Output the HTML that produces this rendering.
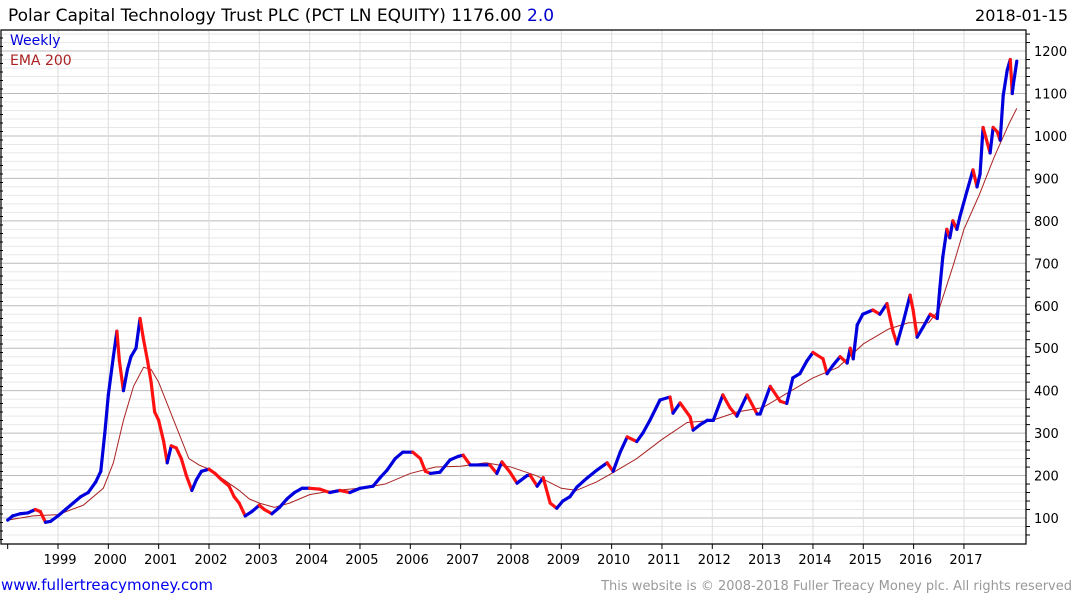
<!DOCTYPE html>
<html><head><meta charset="utf-8">
<style>
body{margin:0;background:#fff;}
svg{display:block;font-family:"DejaVu Sans","Liberation Sans",sans-serif;}
</style></head>
<body>
<svg id="chart" width="1075" height="600" viewBox="0 0 1075 600" xmlns="http://www.w3.org/2000/svg">
<text x="8" y="21" font-size="17" fill="#000">Polar Capital Technology Trust PLC (PCT LN EQUITY) 1176.00 <tspan fill="#0000cc">2.0</tspan></text>
<text x="1068" y="21" font-size="16" text-anchor="end" fill="#000">2018-01-15</text>
<g id="grid"></g>
<g id="axes"></g>
<g id="series"></g>
<text x="10" y="45" font-size="14" fill="#0000dd">Weekly</text>
<text x="10" y="65" font-size="14" fill="#aa2222">EMA 200</text>
<text x="1" y="590" font-size="15" fill="#0000ee">www.fullertreacymoney.com</text>
<text x="1072" y="590" font-size="13" text-anchor="end" fill="#999">This website is © 2008-2018 Fuller Treacy Money plc. All rights reserved</text>
</svg>
<script>
const priceDates=[1998.0,1998.1,1998.25,1998.4,1998.55,1998.65,1998.75,1998.85,1999.0,1999.15,1999.3,1999.45,1999.6,1999.75,1999.85,1999.93,2000.0,2000.1,2000.17,2000.22,2000.3,2000.38,2000.45,2000.55,2000.63,2000.7,2000.78,2000.85,2000.92,2001.0,2001.1,2001.17,2001.25,2001.35,2001.45,2001.55,2001.66,2001.75,2001.85,2002.0,2002.12,2002.25,2002.4,2002.5,2002.6,2002.72,2002.85,2003.0,2003.1,2003.25,2003.4,2003.55,2003.7,2003.85,2004.0,2004.2,2004.4,2004.6,2004.8,2005.0,2005.26,2005.4,2005.54,2005.7,2005.85,2006.05,2006.2,2006.3,2006.4,2006.59,2006.79,2006.95,2007.05,2007.19,2007.4,2007.58,2007.72,2007.82,2007.98,2008.12,2008.32,2008.38,2008.52,2008.64,2008.78,2008.91,2009.03,2009.17,2009.31,2009.51,2009.71,2009.91,2010.03,2010.17,2010.31,2010.5,2010.62,2010.76,2010.96,2011.16,2011.22,2011.36,2011.56,2011.62,2011.76,2011.9,2012.02,2012.21,2012.35,2012.49,2012.69,2012.89,2012.95,2013.15,2013.35,2013.48,2013.6,2013.74,2013.88,2014.0,2014.2,2014.28,2014.4,2014.54,2014.68,2014.74,2014.8,2014.88,2014.99,2015.19,2015.33,2015.47,2015.59,2015.67,2015.79,2015.93,2015.99,2016.07,2016.19,2016.33,2016.47,2016.52,2016.58,2016.66,2016.72,2016.78,2016.86,2016.92,2017.06,2017.18,2017.26,2017.32,2017.38,2017.52,2017.58,2017.66,2017.72,2017.78,2017.86,2017.92,2017.96,2017.98,2018.05];
const priceValues=[95,105,110,112,120,115,90,92,105,120,135,150,160,185,210,300,390,480,540,470,400,450,480,500,570,520,470,420,350,330,280,230,270,265,240,200,165,190,210,215,205,190,175,150,135,105,115,130,120,110,125,145,160,170,170,168,160,165,160,170,175,195,213,240,255,255,240,210,205,208,237,245,248,225,225,225,205,232,208,182,200,201,175,195,135,123,140,150,173,194,213,230,210,255,291,280,300,330,378,385,347,371,338,307,320,330,330,390,360,340,390,345,345,410,375,370,430,440,470,490,475,440,460,480,465,500,475,555,580,590,580,605,540,510,560,625,590,526,550,580,570,640,715,780,760,800,780,810,870,920,880,910,1020,960,1020,1010,990,1095,1155,1180,1100,1120,1176];
const emaDates=[1998.0,1998.5,1999.0,1999.5,1999.9,2000.1,2000.3,2000.5,2000.7,2000.85,2001.0,2001.2,2001.4,2001.6,2001.8,2002.0,2002.3,2002.6,2002.8,2003.0,2003.3,2003.6,2004.0,2004.5,2005.0,2005.5,2006.0,2006.5,2007.0,2007.5,2008.0,2008.5,2009.0,2009.3,2009.7,2010.0,2010.5,2011.0,2011.5,2012.0,2012.5,2013.0,2013.5,2014.0,2014.5,2015.0,2015.5,2015.9,2016.3,2016.5,2016.8,2017.0,2017.3,2017.6,2017.9,2018.05];
const emaValues=[95,105,108,130,170,230,330,410,455,450,420,360,300,240,225,215,190,165,145,135,125,135,155,165,170,180,205,220,222,230,220,200,170,165,185,205,240,285,325,330,350,360,395,430,455,510,545,560,560,590,700,780,860,950,1030,1065];
const yearTicks=[1999,2000,2001,2002,2003,2004,2005,2006,2007,2008,2009,2010,2011,2012,2013,2014,2015,2016,2017];
const priceTicks=[100,200,300,400,500,600,700,800,900,1000,1100,1200];

const NS="http://www.w3.org/2000/svg";
const X=t=>58+(t-1999)*50.33;
const Y=p=>518-(p-100)*0.4245;
const L=0,R=1026,T=30,B=544;
function mk(tag,attrs,parent){const e=document.createElementNS(NS,tag);for(const k in attrs)e.setAttribute(k,attrs[k]);parent.appendChild(e);return e;}
const grid=document.getElementById('grid'),axes=document.getElementById('axes'),series=document.getElementById('series');
// minor grid
for(let p=60;p<=1260;p+=20){const y=Y(p);if(y<T||y>B)continue;
 const major=p%100===0;
 const g=mk('line',{x1:L,x2:R,y1:y,y2:y,stroke:major?'#bbbbbb':'#e8e8e8','stroke-width':1},grid);
 
 
 const tk=mk('line',{x1:R,x2:R+(major?0:4),y1:y,y2:y,stroke:'#000'},axes);
 
 
}
for(const yr of yearTicks){const x=X(yr);
 const g=mk('line',{x1:x,x2:x,y1:T,y2:B,stroke:'#dddddd'},grid);
 
 
 const tk=mk('line',{x1:x,x2:x,y1:B,y2:B+5,stroke:'#000'},axes);
 
 
 const tx=mk('text',{x:x+2,y:564,'font-size':13,'text-anchor':'middle',fill:'#000'},axes);
 tx.textContent=yr;
 
 
}
{const tk=mk('line',{x1:X(1998),x2:X(1998),y1:B,y2:B+5,stroke:'#000'},axes);
 
 }
for(const p of priceTicks){const tx=mk('text',{x:1034,y:Y(p)+5,'font-size':13,fill:'#000'},axes);
 tx.textContent=p;
 
 }
for(let y=T+8;y<B;y+=8.5){const tk=mk('line',{x1:0,x2:3,y1:y,y2:y,stroke:'#000'},axes);
 
 }
const fr=mk('path',{d:`M${L+1} ${T}H${R}V${B}H${L+1}Z`,fill:'none',stroke:'#000','stroke-width':1.2},axes);


// EMA
const ema=mk('polyline',{points:emaDates.map((d,i)=>X(d)+','+Y(emaValues[i])).join(' '),fill:'none',stroke:'#aa2222','stroke-width':1},series);


// Price segments
for(let i=1;i<priceDates.length;i++){
 const up=priceValues[i]>=priceValues[i-1];
 const s=mk('line',{x1:X(priceDates[i-1]),y1:Y(priceValues[i-1]),x2:X(priceDates[i]),y2:Y(priceValues[i]),stroke:up?'#0000dd':'#ff1111','stroke-width':3.2,'stroke-linecap':'round'},series);
 
 
}
</script>
</body></html>
